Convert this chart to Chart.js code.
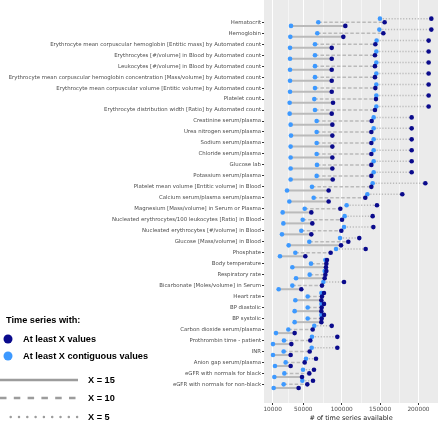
<!DOCTYPE html>
<html>
<head>
<meta charset="utf-8">
<script src="https://cdn.jsdelivr.net/npm/chart.js@4"></script>
<style>
  html, body { margin: 0; padding: 0; background: #fff; }
  #wrap { width: 440px; height: 421px; position: relative; }
</style>
</head>
<body>
<div id="wrap"><canvas id="chart" width="440" height="421"></canvas></div>
<script>
const categories = [
    "Hematocrit",
    "Hemoglobin",
    "Erythrocyte mean corpuscular hemoglobin [Entitic mass] by Automated count",
    "Erythrocytes [#/volume] in Blood by Automated count",
    "Leukocytes [#/volume] in Blood by Automated count",
    "Erythrocyte mean corpuscular hemoglobin concentration [Mass/volume] by Automated count",
    "Erythrocyte mean corpuscular volume [Entitic volume] by Automated count",
    "Platelet count",
    "Erythrocyte distribution width [Ratio] by Automated count",
    "Creatinine serum/plasma",
    "Urea nitrogen serum/plasma",
    "Sodium serum/plasma",
    "Chloride serum/plasma",
    "Glucose lab",
    "Potassium serum/plasma",
    "Platelet mean volume [Entitic volume] in Blood",
    "Calcium serum/plasma serum/plasma",
    "Magnesium [Mass/volume] in Serum or Plasma",
    "Nucleated erythrocytes/100 leukocytes [Ratio] in Blood",
    "Nucleated erythrocytes [#/volume] in Blood",
    "Glucose [Mass/volume] in Blood",
    "Phosphate",
    "Body temperature",
    "Respiratory rate",
    "Bicarbonate [Moles/volume] in Serum",
    "Heart rate",
    "BP diastolic",
    "BP systolic",
    "Carbon dioxide serum/plasma",
    "Prothrombin time - patient",
    "INR",
    "Anion gap serum/plasma",
    "eGFR with normals for black",
    "eGFR with normals for non-black"
];

// X = 5 (dotted)
const contig5 = [149800, 149000, 145500, 145100, 145100, 145100, 145100, 145100, 145100, 141600, 141600, 141600, 141600, 141600, 141600, 140300, 133400, 106400, 103800, 103000, 97800, 92600, 78700, 77800, 76100, 73500, 73500, 73500, 64300, 61300, 60900, 53500, 49600, 48700];
const atLeast5 = [216700, 216700, 213200, 213200, 213200, 213200, 213200, 213200, 213200, 191100, 191100, 191100, 191100, 191100, 191100, 208900, 178900, 145900, 140300, 141200, 122900, 131200, 80800, 80000, 103000, 76900, 76900, 76900, 87000, 94300, 94300, 66500, 63900, 62600];
// X = 10 (dashed)
const contig10 = [69500, 68200, 65200, 65200, 65200, 65200, 65200, 64300, 65200, 67400, 67400, 67400, 67400, 67800, 67400, 61300, 63500, 51800, 49200, 47400, 57800, 39600, 60000, 58300, 35700, 55700, 55700, 55700, 30500, 24800, 24400, 27000, 25300, 24400];
const atLeast10 = [155900, 154200, 143800, 143300, 143300, 143300, 143800, 144600, 143300, 139000, 138600, 138600, 138600, 138600, 138600, 138600, 130700, 98200, 100400, 99500, 108600, 85600, 80000, 78700, 74300, 74300, 73900, 73900, 62200, 59100, 58300, 51800, 57800, 55200];
// X = 15 (solid)
const contig15 = [34000, 33100, 32700, 32700, 32700, 32700, 32700, 32200, 32200, 33500, 34000, 33500, 33500, 33500, 33500, 28800, 31800, 23100, 24000, 22200, 30900, 19600, 35700, 40500, 17900, 39600, 38700, 38700, 14400, 10500, 10500, 13100, 12300, 11400];
const atLeast15 = [104700, 102100, 87000, 87000, 87000, 87000, 87000, 88700, 87000, 87800, 87800, 87800, 87800, 87800, 88300, 83000, 83000, 60400, 61700, 60400, 99100, 52600, 79500, 77800, 47400, 73500, 73500, 73500, 38700, 34400, 33500, 33500, 48300, 43900];

const xTicks = [10000, 50000, 100000, 150000, 200000];
const xMinorTicks = [30000, 75000, 125000, 175000];

const darkBlue = "#0a0a8c";
const lightBlue = "#3d99ff";
const segGray = "#bababa";
const keyGray = "#9c9c9c";

// row offset of each X inside a category, and its line style
const rows = [
    { name: "X = 5", lo: contig5, hi: atLeast5, off: -0.33, dash: [1.2, 1.7], width: 1.5 },
    { name: "X = 10", lo: contig10, hi: atLeast10, off: 0, dash: [3.5, 2], width: 1.5 },
    { name: "X = 15", lo: contig15, hi: atLeast15, off: 0.33, dash: [], width: 2 }
];

function pts(key) {
    const d = [];
    categories.forEach((c, i) => {
        rows.forEach(r => d.push({ x: r[key][i], y: i + r.off }));
    });
    return d;
}

// one small line dataset per segment
const segDatasets = [];
rows.forEach(r => {
    categories.forEach((c, i) => {
        segDatasets.push({
            label: c + " " + r.name,
            data: [{ x: r.lo[i], y: i + r.off }, { x: r.hi[i], y: i + r.off }],
            borderColor: segGray,
            backgroundColor: segGray,
            borderWidth: r.width,
            borderDash: r.dash,
            pointRadius: 0,
            fill: false,
            showLine: true
        });
    });
});

const panelBg = {
    id: "panelBg",
    beforeDraw(chart) {
        const { ctx, chartArea: a } = chart;
        ctx.save();
        ctx.fillStyle = "#ebebeb";
        ctx.fillRect(a.left, a.top, a.right - a.left, a.bottom - a.top);
        ctx.restore();
    },
    beforeDatasetsDraw(chart) {
        const { ctx, chartArea: a } = chart;
        const xs = chart.scales.x;
        ctx.save();
        ctx.strokeStyle = "#ffffff";
        ctx.lineWidth = 0.5;
        xMinorTicks.forEach(v => {
            const px = Math.round(xs.getPixelForValue(v)) + 0.5;
            ctx.beginPath();
            ctx.moveTo(px, a.top);
            ctx.lineTo(px, a.bottom);
            ctx.stroke();
        });
        ctx.restore();
    }
};

const keyLegend = {
    id: "keyLegend",
    afterDraw(chart) {
        const ctx = chart.ctx;
        ctx.save();
        ctx.fillStyle = "#000";
        ctx.font = "bold 9.2px 'Liberation Sans', Arial, sans-serif";
        ctx.textBaseline = "middle";
        ctx.textAlign = "left";
        ctx.fillText("Time series with:", 6, 320);

        ctx.fillStyle = darkBlue;
        ctx.beginPath();
        ctx.arc(8, 339, 4.5, 0, Math.PI * 2);
        ctx.fill();
        ctx.fillStyle = lightBlue;
        ctx.beginPath();
        ctx.arc(8, 356, 4.5, 0, Math.PI * 2);
        ctx.fill();

        ctx.fillStyle = "#000";
        ctx.fillText("At least X values", 23, 339);
        ctx.fillText("At least X contiguous values", 23, 356);

        ctx.strokeStyle = keyGray;
        ctx.lineWidth = 2.5;
        ctx.beginPath();
        ctx.moveTo(0, 380);
        ctx.lineTo(78, 380);
        ctx.stroke();

        ctx.setLineDash([6.5, 7.3]);
        ctx.beginPath();
        ctx.moveTo(0, 398);
        ctx.lineTo(78, 398);
        ctx.stroke();

        ctx.lineCap = "round";
        ctx.setLineDash([0, 8.3]);
        ctx.beginPath();
        ctx.moveTo(10.7, 417);
        ctx.lineTo(78, 417);
        ctx.stroke();
        ctx.setLineDash([]);

        ctx.fillText("X = 15", 88, 380);
        ctx.fillText("X = 10", 88, 398);
        ctx.fillText("X = 5", 88, 417);
        ctx.restore();
    }
};

new Chart(document.getElementById("chart"), {
    type: "line",
    data: {
        datasets: [
            { label: "At least X values", data: pts("hi"), showLine: false,
              pointRadius: 2.3, pointBackgroundColor: darkBlue, pointBorderWidth: 0 },
            { label: "At least X contiguous values", data: pts("lo"), showLine: false,
              pointRadius: 2.3, pointBackgroundColor: lightBlue, pointBorderWidth: 0 }
        ].concat(segDatasets)
    },
    options: {
        responsive: false,
        animation: false,
        layout: { autoPadding: false, padding: { left: 0, right: 2, top: 0, bottom: 0 } },
        plugins: { legend: { display: false }, tooltip: { enabled: false } },
        scales: {
            x: {
                type: "linear",
                min: -1200,
                max: 225400,
                afterBuildTicks: s => { s.ticks = xTicks.map(v => ({ value: v })); },
                afterFit: s => { s.height = 18; s.paddingLeft = 0; s.paddingRight = 0; },
                border: { display: false },
                grid: { color: "#ffffff", lineWidth: 1, tickColor: "#333333", tickLength: 2 },
                ticks: {
                    callback: v => String(v),
                    color: "#4d4d4d",
                    font: { family: "'DejaVu Sans'", size: 5.8 },
                    padding: 1,
                    maxRotation: 0
                },
                title: {
                    display: true,
                    text: "# of time series available",
                    color: "#222",
                    font: { family: "'DejaVu Sans'", size: 6.5 },
                    padding: { top: 0, bottom: -1 }
                }
            },
            y: {
                type: "linear",
                reverse: true,
                min: -2.03,
                max: 34.7,
                afterBuildTicks: s => { s.ticks = categories.map((c, i) => ({ value: i })); },
                afterFit: s => { s.width = 264; s.paddingTop = 0; s.paddingBottom = 0; },
                border: { display: false },
                grid: { drawOnChartArea: false, drawTicks: true, tickLength: 2, tickColor: "#333333" },
                ticks: {
                    autoSkip: false,
                    callback: v => categories[v],
                    color: "#4d4d4d",
                    font: { family: "'DejaVu Sans'", size: 5.4 },
                    padding: 1
                }
            }
        }
    },
    plugins: [panelBg, keyLegend]
});
</script>
</body>
</html>
